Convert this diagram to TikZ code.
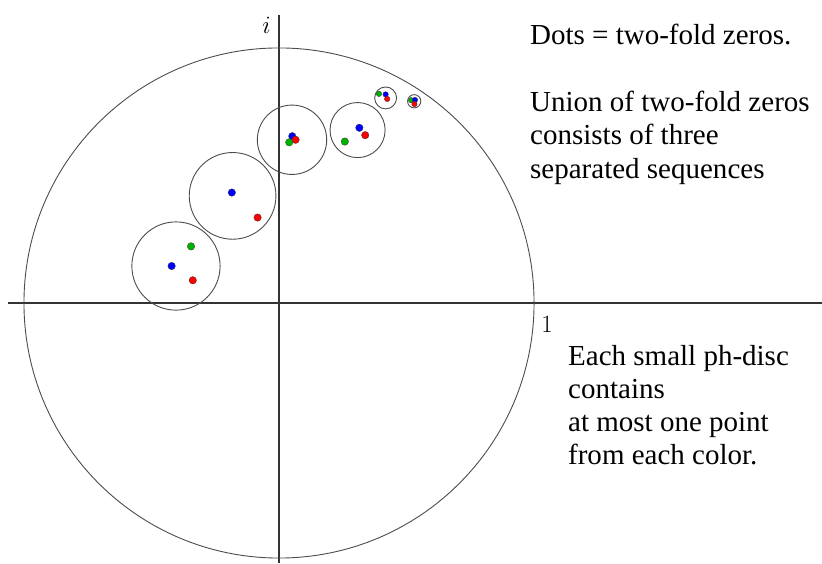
\documentclass[tikz,border=0pt]{standalone}
\usepackage{fontspec}
\newfontfamily\notefont{Liberation Serif}
\usetikzlibrary{positioning}

\begin{document}
\begin{tikzpicture}[x=255pt,y=255pt,
 axis/.style={line width=1.3pt,draw=black!80},
 disc/.style={line width=0.9pt,draw=black!70},
 zero/.style={circle,draw=black!80,line width=0.3pt,inner sep=0pt,minimum size=7.5pt},
 tiny/.style={zero,minimum size=5.5pt},
 note/.style={font=\notefont\fontsize{29}{33.3}\selectfont,align=left,inner sep=0pt,anchor=base west},
 lab/.style={font=\fontsize{26}{30}\selectfont,inner sep=0pt}]
\useasboundingbox (-1.094,-1.020) rectangle (2.129,1.188);
% axes and unit circle
\draw[axis] (-1.063,0) -- (2.129,0);
\draw[axis] (0,1.129) -- (0,-1.020);
\draw[disc] (0,0) circle (1);
\node[lab] (im) at (-0.049,1.090) {$i$};
\node[lab] (one) at (1.051,-0.084) {$1$};
% ph-discs
\draw[disc] (-0.404,0.145) circle (0.173);
\draw[disc] (-0.182,0.420) circle (0.170);
\draw[disc] (0.051,0.640) circle (0.136);
\draw[disc] (0.308,0.678) circle (0.108);
\draw[disc] (0.418,0.804) circle (0.043);
\draw[disc] (0.530,0.791) circle (0.026);
% two-fold zeros
\node[zero,fill=blue] (b1) at (-0.421,0.145) {};
\node[zero,fill=green!70!black] (g1) at (-0.345,0.222) {};
\node[zero,fill=red] (r1) at (-0.338,0.089) {};
\node[zero,fill=blue] (b2) at (-0.185,0.433) {};
\node[zero,fill=red] (r2) at (-0.084,0.335) {};
\node[zero,fill=blue] (b3) at (0.052,0.654) {};
\node[zero,fill=red] (r3) at (0.065,0.640) {};
\node[zero,fill=green!70!black] (g3) at (0.040,0.630) {};
\node[zero,fill=blue] (b4) at (0.315,0.687) {};
\node[zero,fill=red] (r4) at (0.338,0.658) {};
\node[zero,fill=green!70!black] (g4) at (0.258,0.633) {};
\node[tiny,fill=green!70!black] (g5) at (0.392,0.820) {};
\node[tiny,fill=blue] (b5) at (0.418,0.818) {};
\node[tiny,fill=red] (r5) at (0.424,0.800) {};
\node[tiny,fill=green!70!black] (g6) at (0.518,0.795) {};
\node[tiny,fill=blue] (b6) at (0.533,0.796) {};
\node[tiny,fill=red] (r6) at (0.531,0.780) {};
% notes
\node[note] (dots) at (0.984,0.490) {Dots = two-fold zeros.\\[33.3pt]Union of two-fold zeros\\consists of three\\separated sequences};
\node[note] (each) at (1.133,-0.635) {Each small ph-disc\\contains\\at most one point\\from each color.};
\end{tikzpicture}
\end{document}
